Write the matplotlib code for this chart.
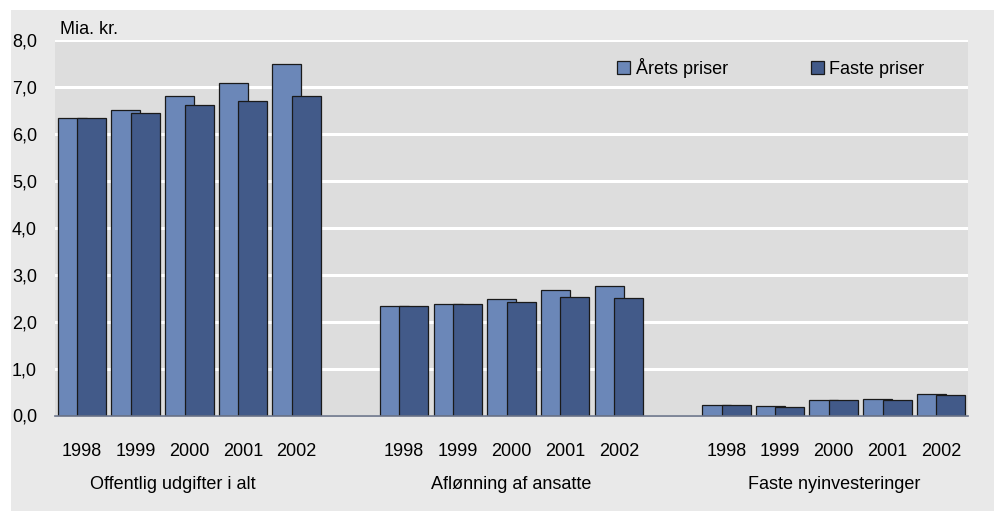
import matplotlib.pyplot as plt
from matplotlib.patches import Rectangle
from matplotlib.transforms import blended_transform_factory
import numpy as np

plt.rcParams['font.family'] = ['Liberation Sans', 'DejaVu Sans']

years = ['1998', '1999', '2000', '2001', '2002']
categories = ['Offentlig udgifter i alt', 'Aflønning af ansatte', 'Faste nyinvesteringer']
# Mia. kr.
aarets_priser = [6.33, 6.51, 6.80, 7.09, 7.48,
                 2.34, 2.38, 2.48, 2.67, 2.76,
                 0.23, 0.21, 0.32, 0.36, 0.46]
faste_priser = [6.33, 6.45, 6.62, 6.69, 6.81,
                2.34, 2.37, 2.42, 2.52, 2.50,
                0.23, 0.19, 0.32, 0.34, 0.43]

light = '#6B87B8'
dark = '#425A89'
fs = 13

fig = plt.figure(figsize=(9.98, 5.13), dpi=100)
fig.patch.set_facecolor('white')
# outer grey panel
panel = Rectangle((11/998, 2/513), (994-11)/998, (503-2)/513,
                  transform=fig.transFigure, facecolor='#E9E9E9',
                  edgecolor='none', zorder=-10)
fig.patches.append(panel)

ax = fig.add_axes([55/998, 1-415.5/513, (968-55)/998, (415.5-40)/513])
ax.set_zorder(1)
ax.set_facecolor('#DDDDDD')

# slot positions: 5 years per group, groups 6 slots apart
x = np.concatenate([np.arange(5) + 6*g for g in range(3)])
w = 0.54
d = 0.363

ax.bar(x - d/2, aarets_priser, width=w, color=light, edgecolor='#1A1A1A',
       linewidth=0.9, zorder=3, label='Årets priser')
ax.bar(x + d/2, faste_priser, width=w, color=dark, edgecolor='#1A1A1A',
       linewidth=0.9, zorder=4, label='Faste priser')

ax.set_xlim(-0.5, 16.5)
ax.set_ylim(0, 8)
ax.set_yticks(np.arange(0, 9, 1))
ax.set_yticklabels([f'{v:.1f}'.replace('.', ',') for v in range(9)], fontsize=fs)
ax.yaxis.grid(True, color='white', linewidth=2.2)
ax.set_axisbelow(True)

ax.set_xticks(x)
ax.set_xticklabels(years * 3, fontsize=fs)
ax.tick_params(axis='x', length=0, pad=19.5)
ax.tick_params(axis='y', length=0, pad=13)

for s in ['top', 'right', 'left']:
    ax.spines[s].set_visible(False)
ax.spines['bottom'].set_color('#6A7388')
ax.spines['bottom'].set_linewidth(1.2)
ax.spines['bottom'].set_zorder(5)

trans = blended_transform_factory(ax.transData, ax.transAxes)
cat_x = [1.7, 8, 14]
for cx, label in zip(cat_x, categories):
    ax.text(cx, -0.183, label, transform=trans, ha='center', va='center',
            fontsize=fs)

fig.text(60/998, 1-29/513, 'Mia. kr.', ha='left', va='center', fontsize=fs)

leg = ax.legend(loc='upper right', bbox_to_anchor=(0.970, 0.995), ncol=2,
                frameon=False, fontsize=fs, handlelength=0.72,
                handleheight=0.72, handletextpad=0.3, columnspacing=4.6)

fig.savefig('out.png', dpi=100, facecolor=fig.get_facecolor())
